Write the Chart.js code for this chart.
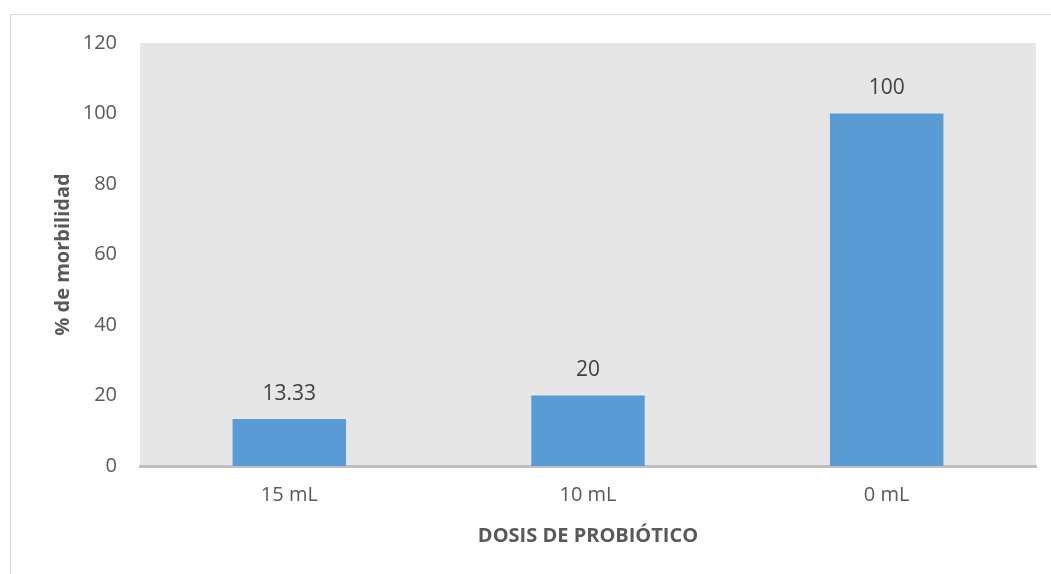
<!DOCTYPE html>
<html>
<head>
<meta charset="utf-8">
<script src="https://cdn.jsdelivr.net/npm/chart.js@4.4.0/dist/chart.umd.min.js"></script>
<style>
  html, body { margin: 0; padding: 0; background: #fff; overflow: hidden; }
  #frame { position: absolute; left: 10px; top: 14px; width: 1100px; height: 620px; border: 1px solid #d9d9d9; }
  #wrap { position: absolute; left: 0; top: 0; width: 1051px; height: 574px; }
</style>
</head>
<body>
<div id="frame"></div>
<div id="wrap"><canvas id="chart"></canvas></div>
<script>
const categories = ['15 mL', '10 mL', '0 mL'];
const morbilidad = [13.33, 20, 100];
const yTicks = [0, 20, 40, 60, 80, 100, 120];

const plotBackground = {
  id: 'plotBackground',
  beforeDraw(chart) {
    const { ctx, chartArea: a } = chart;
    ctx.save();
    ctx.fillStyle = '#e7e6e6';
    ctx.fillRect(a.left, a.top, a.right - a.left, a.bottom - a.top);
    ctx.restore();
  }
};

const valueLabels = {
  id: 'valueLabels',
  afterDatasetsDraw(chart) {
    const { ctx } = chart;
    const meta = chart.getDatasetMeta(0);
    ctx.save();
    ctx.font = '21px "Open Sans"';
    ctx.fillStyle = '#404040';
    ctx.textAlign = 'center';
    ctx.textBaseline = 'middle';
    meta.data.forEach(function (bar, i) {
      ctx.fillText(String(morbilidad[i]), bar.x, bar.y - 25);
    });
    ctx.restore();
  }
};

new Chart(document.getElementById('chart').getContext('2d'), {
  type: 'bar',
  data: {
    labels: categories,
    datasets: [{
      data: morbilidad,
      backgroundColor: '#5b9bd5',
      borderWidth: 0,
      barPercentage: 0.38,
      categoryPercentage: 1
    }]
  },
  options: {
    responsive: true,
    maintainAspectRatio: false,
    animation: false,
    layout: { padding: { left: 0, top: 43, right: 15, bottom: 0 } },
    plugins: { legend: { display: false }, tooltip: { enabled: false } },
    scales: {
      x: {
        grid: { display: false, drawTicks: false },
        border: { display: true, color: '#bfbfbf', width: 3 },
        ticks: { color: '#595959', font: { family: 'Open Sans', size: 20 }, padding: 17 },
        title: {
          display: true,
          text: 'DOSIS DE PROBIÓTICO',
          color: '#595959',
          font: { family: 'Open Sans', size: 20, weight: 'bold' },
          padding: { top: 0, bottom: 26 }
        },
        afterFit(scale) { scale.height = 108; }
      },
      y: {
        min: 0,
        max: 120,
        grid: { display: false, drawTicks: false },
        border: { display: false },
        afterBuildTicks(scale) { scale.ticks = yTicks.map(v => ({ value: v })); },
        ticks: { color: '#595959', font: { family: 'Open Sans', size: 20 }, padding: 23 },
        title: {
          display: true,
          text: '% de morbilidad',
          color: '#595959',
          font: { family: 'Open Sans', size: 20, weight: 'bold' },
          padding: { top: 51, bottom: 0 }
        },
        afterFit(scale) { scale.width = 140; }
      }
    }
  },
  plugins: [plotBackground, valueLabels]
});
</script>
</body>
</html>
